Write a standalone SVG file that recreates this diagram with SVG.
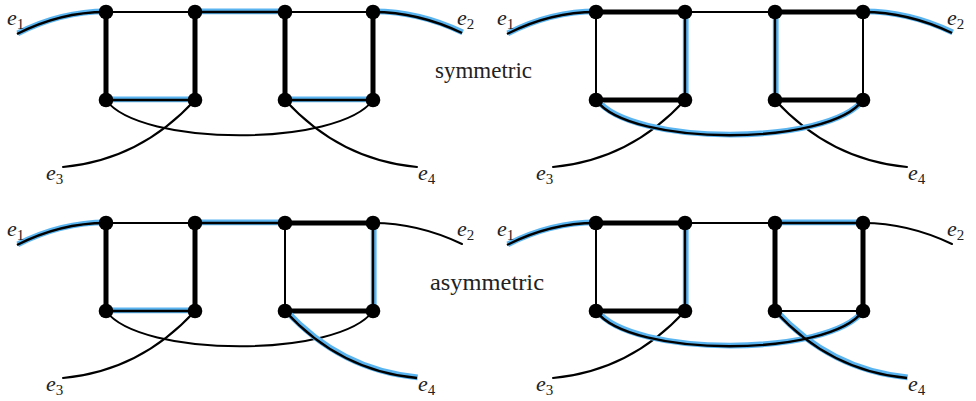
<svg xmlns="http://www.w3.org/2000/svg" width="976" height="401" viewBox="0 0 976 401">
<style>
.thin{fill:none;stroke:#000;stroke-width:2;stroke-linecap:round}
.thick{fill:none;stroke:#000;stroke-width:5;stroke-linecap:round}
.glow{fill:none;stroke:#5ab4f0;stroke-width:5.8;stroke-linecap:butt}
.core{fill:none;stroke:#000;stroke-width:2.4;stroke-linecap:butt}
.node{fill:#000}
.tx{font-family:'Liberation Serif','DejaVu Serif','Times New Roman',Times,serif}
.lbl{font-size:22px;font-style:italic;fill:#222}
.sub{font-style:normal;font-size:15px}
.word{font-size:23px;fill:#222}
</style>
<defs>
<path id="pe1" d="M17,34 Q60,12 106,12"/>
<path id="pe2" d="M373,12 Q418,12 462,33"/>
<path id="pAB" d="M106,12 H195"/>
<path id="pBC" d="M195,12 H285"/>
<path id="pCD" d="M285,12 H373"/>
<path id="pAE" d="M106,12 V100"/>
<path id="pBF" d="M195,12 V100"/>
<path id="pCG" d="M285,12 V100"/>
<path id="pDH" d="M373,12 V100"/>
<path id="pEF" d="M106,100 H195"/>
<path id="pGH" d="M285,100 H373"/>
<path id="parc" d="M106,100 C140,147 339,147 373,100"/>
<path id="pe3" d="M195,100 Q140,160 63,167"/>
<path id="pe4" d="M285,100 Q340,160 417,167"/>
</defs>

<!-- Top-left panel -->
<g id="panel-tl">
<g id="tl-connectors">
<use href="#pAB" class="thin"/>
<use href="#pCD" class="thin"/>
<use href="#parc" class="thin"/>
<use href="#pe3" class="thin"/>
<use href="#pe4" class="thin"/>
<use href="#pAE" class="thick"/>
<use href="#pBF" class="thick"/>
<use href="#pCG" class="thick"/>
<use href="#pDH" class="thick"/>
<g transform="translate(0.7,-0.7)">
<use href="#pe1" class="glow"/><use href="#pe2" class="glow"/><use href="#pBC" class="glow"/><use href="#pEF" class="glow"/><use href="#pGH" class="glow"/>
</g>
<use href="#pe1" class="core"/><use href="#pe2" class="core"/><use href="#pBC" class="core"/><use href="#pEF" class="core"/><use href="#pGH" class="core"/>
</g>
<g id="tl-A"><circle class="node" cx="106" cy="12" r="7.3"/></g>
<g id="tl-B"><circle class="node" cx="195" cy="12" r="7.3"/></g>
<g id="tl-C"><circle class="node" cx="285" cy="12" r="7.3"/></g>
<g id="tl-D"><circle class="node" cx="373" cy="12" r="7.3"/></g>
<g id="tl-E"><circle class="node" cx="106" cy="100" r="7.3"/></g>
<g id="tl-F"><circle class="node" cx="195" cy="100" r="7.3"/></g>
<g id="tl-G"><circle class="node" cx="285" cy="100" r="7.3"/></g>
<g id="tl-H"><circle class="node" cx="373" cy="100" r="7.3"/></g>
<g class="tx">
<text class="lbl" x="7" y="25">e<tspan class="sub" dy="4">1</tspan></text>
<text class="lbl" x="457" y="25">e<tspan class="sub" dy="4">2</tspan></text>
<text class="lbl" x="46" y="180">e<tspan class="sub" dy="4">3</tspan></text>
<text class="lbl" x="418" y="180">e<tspan class="sub" dy="4">4</tspan></text>
</g>
</g>

<!-- Top-right panel -->
<g id="panel-tr" transform="translate(490,0)">
<g id="tr-connectors">
<use href="#pBC" class="thin"/>
<use href="#pAE" class="thin"/>
<use href="#pDH" class="thin"/>
<use href="#pe3" class="thin"/>
<use href="#pe4" class="thin"/>
<use href="#pAB" class="thick"/>
<use href="#pCD" class="thick"/>
<use href="#pEF" class="thick"/>
<use href="#pGH" class="thick"/>
<g transform="translate(0.7,-0.7)">
<use href="#pe1" class="glow"/><use href="#pe2" class="glow"/><use href="#pBF" class="glow"/><use href="#pCG" class="glow"/><use href="#parc" class="glow"/>
</g>
<use href="#pe1" class="core"/><use href="#pe2" class="core"/><use href="#pBF" class="core"/><use href="#pCG" class="core"/><use href="#parc" class="core"/>
</g>
<g id="tr-A"><circle class="node" cx="106" cy="12" r="7.3"/></g>
<g id="tr-B"><circle class="node" cx="195" cy="12" r="7.3"/></g>
<g id="tr-C"><circle class="node" cx="285" cy="12" r="7.3"/></g>
<g id="tr-D"><circle class="node" cx="373" cy="12" r="7.3"/></g>
<g id="tr-E"><circle class="node" cx="106" cy="100" r="7.3"/></g>
<g id="tr-F"><circle class="node" cx="195" cy="100" r="7.3"/></g>
<g id="tr-G"><circle class="node" cx="285" cy="100" r="7.3"/></g>
<g id="tr-H"><circle class="node" cx="373" cy="100" r="7.3"/></g>
<g class="tx">
<text class="lbl" x="7" y="25">e<tspan class="sub" dy="4">1</tspan></text>
<text class="lbl" x="457" y="25">e<tspan class="sub" dy="4">2</tspan></text>
<text class="lbl" x="46" y="180">e<tspan class="sub" dy="4">3</tspan></text>
<text class="lbl" x="418" y="180">e<tspan class="sub" dy="4">4</tspan></text>
</g>
</g>

<!-- Bottom-left panel -->
<g id="panel-bl" transform="translate(0,211)">
<g id="bl-connectors">
<use href="#pAB" class="thin"/>
<use href="#pe2" class="thin"/>
<use href="#pCG" class="thin"/>
<use href="#parc" class="thin"/>
<use href="#pe3" class="thin"/>
<use href="#pCD" class="thick"/>
<use href="#pAE" class="thick"/>
<use href="#pBF" class="thick"/>
<use href="#pGH" class="thick"/>
<g transform="translate(0.7,-0.7)">
<use href="#pe1" class="glow"/><use href="#pBC" class="glow"/><use href="#pDH" class="glow"/><use href="#pEF" class="glow"/><use href="#pe4" class="glow"/>
</g>
<use href="#pe1" class="core"/><use href="#pBC" class="core"/><use href="#pDH" class="core"/><use href="#pEF" class="core"/><use href="#pe4" class="core"/>
</g>
<g id="bl-A"><circle class="node" cx="106" cy="12" r="7.3"/></g>
<g id="bl-B"><circle class="node" cx="195" cy="12" r="7.3"/></g>
<g id="bl-C"><circle class="node" cx="285" cy="12" r="7.3"/></g>
<g id="bl-D"><circle class="node" cx="373" cy="12" r="7.3"/></g>
<g id="bl-E"><circle class="node" cx="106" cy="100" r="7.3"/></g>
<g id="bl-F"><circle class="node" cx="195" cy="100" r="7.3"/></g>
<g id="bl-G"><circle class="node" cx="285" cy="100" r="7.3"/></g>
<g id="bl-H"><circle class="node" cx="373" cy="100" r="7.3"/></g>
<g class="tx">
<text class="lbl" x="7" y="25">e<tspan class="sub" dy="4">1</tspan></text>
<text class="lbl" x="457" y="25">e<tspan class="sub" dy="4">2</tspan></text>
<text class="lbl" x="46" y="180">e<tspan class="sub" dy="4">3</tspan></text>
<text class="lbl" x="418" y="180">e<tspan class="sub" dy="4">4</tspan></text>
</g>
</g>

<!-- Bottom-right panel -->
<g id="panel-br" transform="translate(490,211)">
<g id="br-connectors">
<use href="#pBC" class="thin"/>
<use href="#pe2" class="thin"/>
<use href="#pAE" class="thin"/>
<use href="#pGH" class="thin"/>
<use href="#pe3" class="thin"/>
<use href="#pAB" class="thick"/>
<use href="#pCG" class="thick"/>
<use href="#pDH" class="thick"/>
<use href="#pEF" class="thick"/>
<g transform="translate(0.7,-0.7)">
<use href="#pe1" class="glow"/><use href="#pCD" class="glow"/><use href="#pBF" class="glow"/><use href="#parc" class="glow"/><use href="#pe4" class="glow"/>
</g>
<use href="#pe1" class="core"/><use href="#pCD" class="core"/><use href="#pBF" class="core"/><use href="#parc" class="core"/><use href="#pe4" class="core"/>
</g>
<g id="br-A"><circle class="node" cx="106" cy="12" r="7.3"/></g>
<g id="br-B"><circle class="node" cx="195" cy="12" r="7.3"/></g>
<g id="br-C"><circle class="node" cx="285" cy="12" r="7.3"/></g>
<g id="br-D"><circle class="node" cx="373" cy="12" r="7.3"/></g>
<g id="br-E"><circle class="node" cx="106" cy="100" r="7.3"/></g>
<g id="br-F"><circle class="node" cx="195" cy="100" r="7.3"/></g>
<g id="br-G"><circle class="node" cx="285" cy="100" r="7.3"/></g>
<g id="br-H"><circle class="node" cx="373" cy="100" r="7.3"/></g>
<g class="tx">
<text class="lbl" x="7" y="25">e<tspan class="sub" dy="4">1</tspan></text>
<text class="lbl" x="457" y="25">e<tspan class="sub" dy="4">2</tspan></text>
<text class="lbl" x="46" y="180">e<tspan class="sub" dy="4">3</tspan></text>
<text class="lbl" x="418" y="180">e<tspan class="sub" dy="4">4</tspan></text>
</g>
</g>

<g class="tx">
<text class="word" x="435" y="78" textLength="97" lengthAdjust="spacingAndGlyphs">symmetric</text>
<text class="word" x="430" y="290" textLength="114" lengthAdjust="spacingAndGlyphs">asymmetric</text>
</g>
</svg>
